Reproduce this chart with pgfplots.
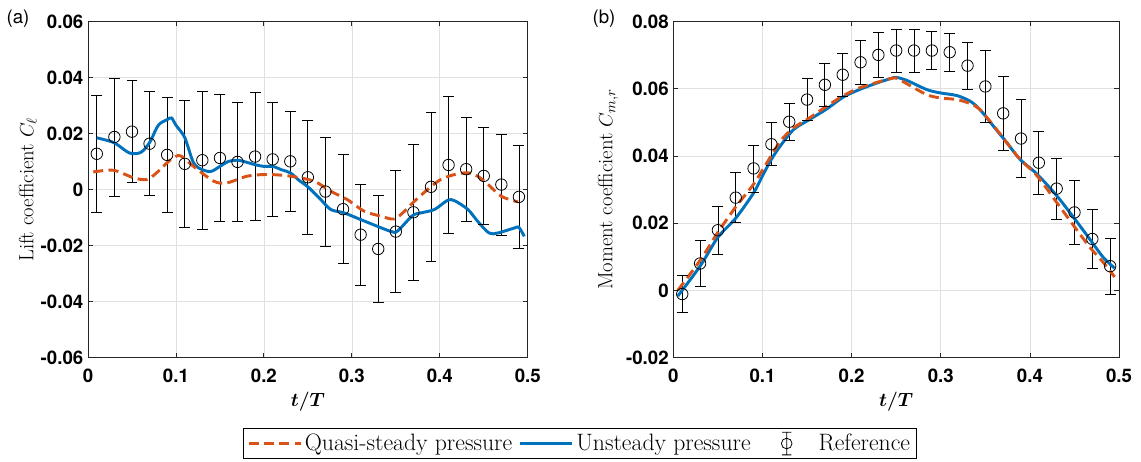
\documentclass[border=0pt]{standalone}
\usepackage{fontspec}
\usepackage{amsmath}
\usepackage{pgfplots}
\pgfplotsset{compat=1.18}
\usepackage{pgfplotstable}
\setsansfont{TeX Gyre Heros}
\definecolor{mblue}{rgb}{0,0.447,0.741}
\definecolor{morange}{rgb}{0.85,0.325,0.098}
\definecolor{maxis}{rgb}{0.15,0.15,0.15}

% Reference data: t, value, symmetric error
\pgfplotstableread{
t y e
0.01 0.0128 0.0210
0.03 0.0188 0.0211
0.05 0.0207 0.0183
0.07 0.0164 0.0186
0.09 0.0124 0.0207
0.11 0.0092 0.0228
0.13 0.0105 0.0246
0.15 0.0113 0.0226
0.17 0.0099 0.0211
0.19 0.0118 0.0228
0.21 0.0108 0.0204
0.23 0.0101 0.0180
0.25 0.0044 0.0203
0.27 -0.0007 0.0195
0.29 -0.0070 0.0195
0.31 -0.0161 0.0181
0.33 -0.0212 0.0190
0.35 -0.0150 0.0218
0.37 -0.0081 0.0244
0.39 0.0010 0.0266
0.41 0.0088 0.0244
0.43 0.0073 0.0185
0.45 0.0049 0.0172
0.47 0.0018 0.0180
0.49 -0.0026 0.0183
}\liftref
\pgfplotstableread{
t y
0.010 0.0185
0.030 0.0167
0.047 0.0131
0.060 0.0133
0.070 0.0168
0.080 0.0230
0.090 0.0250
0.095 0.0256
0.100 0.0230
0.110 0.0186
0.120 0.0096
0.130 0.0071
0.140 0.0065
0.150 0.0083
0.160 0.0101
0.170 0.0105
0.180 0.0098
0.190 0.0089
0.200 0.0083
0.210 0.0083
0.220 0.0071
0.230 0.0060
0.240 0.0033
0.250 0.0010
0.263 -0.0030
0.276 -0.0071
0.291 -0.0083
0.310 -0.0107
0.329 -0.0131
0.345 -0.0150
0.352 -0.0148
0.369 -0.0093
0.379 -0.0083
0.394 -0.0071
0.409 -0.0038
0.417 -0.0040
0.432 -0.0071
0.443 -0.0113
0.456 -0.0155
0.466 -0.0155
0.485 -0.0137
0.490 -0.0135
0.496 -0.0167
}\liftun
\pgfplotstableread{
t y
0.006 0.0063
0.029 0.0069
0.052 0.0042
0.067 0.0036
0.078 0.0060
0.094 0.0107
0.105 0.0121
0.120 0.0083
0.143 0.0030
0.158 0.0024
0.181 0.0048
0.204 0.0054
0.230 0.0048
0.257 0.0030
0.276 -0.0006
0.295 -0.0036
0.314 -0.0077
0.333 -0.0095
0.348 -0.0105
0.360 -0.0077
0.371 -0.0042
0.386 0.0000
0.401 0.0036
0.417 0.0054
0.432 0.0060
0.443 0.0048
0.455 0.0018
0.470 -0.0024
0.489 -0.0044
}\liftqs
\pgfplotstableread{
t y e
0.01 -0.0011 0.0056
0.03 0.0080 0.0068
0.05 0.0179 0.0072
0.07 0.0276 0.0075
0.09 0.0363 0.0070
0.11 0.0435 0.0064
0.13 0.0502 0.0056
0.15 0.0568 0.0062
0.17 0.0612 0.0063
0.19 0.0642 0.0064
0.21 0.0679 0.0065
0.23 0.0701 0.0068
0.25 0.0714 0.0064
0.27 0.0714 0.0064
0.29 0.0714 0.0057
0.31 0.0709 0.0057
0.33 0.0669 0.0070
0.35 0.0607 0.0107
0.37 0.0527 0.0110
0.39 0.0452 0.0117
0.41 0.0380 0.0093
0.43 0.0303 0.0091
0.45 0.0232 0.0094
0.47 0.0153 0.0088
0.49 0.0072 0.0083
}\momref
\pgfplotstableread{
t y
0.005 -0.0017
0.030 0.0072
0.050 0.0158
0.070 0.0215
0.090 0.0290
0.100 0.0341
0.110 0.0390
0.120 0.0430
0.135 0.0479
0.153 0.0509
0.172 0.0540
0.191 0.0576
0.209 0.0598
0.228 0.0617
0.243 0.0630
0.250 0.0634
0.262 0.0625
0.284 0.0598
0.299 0.0588
0.318 0.0580
0.333 0.0563
0.344 0.0538
0.359 0.0489
0.374 0.0440
0.389 0.0390
0.408 0.0346
0.430 0.0282
0.449 0.0217
0.467 0.0153
0.482 0.0099
0.495 0.0066
}\momun
\pgfplotstableread{
t y
0.005 0.0000
0.030 0.0089
0.050 0.0173
0.071 0.0252
0.090 0.0316
0.105 0.0380
0.120 0.0444
0.135 0.0484
0.153 0.0514
0.172 0.0548
0.191 0.0580
0.209 0.0603
0.228 0.0619
0.243 0.0630
0.250 0.0632
0.262 0.0615
0.284 0.0583
0.299 0.0573
0.318 0.0568
0.333 0.0556
0.344 0.0538
0.359 0.0491
0.374 0.0440
0.389 0.0390
0.408 0.0341
0.430 0.0262
0.449 0.0193
0.467 0.0129
0.482 0.0084
0.495 0.0040
}\momqs

\pgfplotsset{
  common/.style={
    scale only axis,
    xmin=0, xmax=0.5,
    xtick={0,0.1,0.2,0.3,0.4,0.5},
    grid=major,
    grid style={line width=0.5pt, black!12},
    axis line style={line width=0.6pt, maxis},
    tick style={line width=0.6pt, maxis},
    tick align=inside,
    major tick length=3.5pt,
    scaled y ticks=false,
    ticklabel style={font=\sffamily\bfseries\fontsize{14}{16}\selectfont},
    xticklabel style={yshift=-5pt},
    /pgf/number format/assume math mode=true,
    /pgf/number format/fixed,
    /pgf/number format/precision=2,
    label style={font=\fontsize{15.5}{18}\selectfont},
    xlabel={$\boldsymbol{t/T}$},
    xlabel style={at={(axis description cs:0.5,-0.1325)}, anchor=center},
  },
  refstyle/.style={
    only marks, black, mark=o, mark size=4.3pt,
    mark options={line width=0.6pt},
    error bars/y dir=both, error bars/y explicit,
    error bars/error mark=none,
    error bars/error bar style={line width=0.6pt},
  },
  capstyle/.style={only marks, black, mark=-, mark size=4.1pt, mark options={line width=0.6pt}, forget plot},
  unstyle/.style={mblue, line width=2.2pt, smooth},
  qsstyle/.style={morange, line width=2.2pt, dash pattern=on 7.5pt off 4pt, smooth},
  unleg/.style={legend image code/.code={\draw[mblue, line width=2.2pt] (0pt,0pt) -- (39pt,0pt);}},
  qsleg/.style={legend image code/.code={\draw[morange, line width=2.2pt, dash pattern=on 7.5pt off 4pt] (0pt,0pt) -- (39pt,0pt);}},
  refleg/.style={legend image code/.code={\draw[black, line width=0.6pt] (22pt,-8.5pt) -- (22pt,8.5pt) (18.5pt,-8.5pt) -- (25.5pt,-8.5pt) (18.5pt,8.5pt) -- (25.5pt,8.5pt) (26pt,0pt) arc[start angle=0, end angle=360, radius=4pt]; \path[draw=none, fill=none] (0pt,-1pt) rectangle (44pt,1pt);}},
}

\begin{document}
\begin{tikzpicture}
\useasboundingbox (0,0) rectangle (855.75pt,345.75pt);
\node[font=\sffamily\fontsize{14}{16}\selectfont] at (13.5pt,332pt) {(a)};
\node[font=\sffamily\fontsize{14}{16}\selectfont] at (453pt,332pt) {(b)};

\begin{axis}[common,
  at={(66pt,77.6pt)}, anchor=south west,
  width=329.8pt, height=251.9pt,
  ymin=-0.06, ymax=0.06,
  ytick={-0.06,-0.04,-0.02,0,0.02,0.04,0.06},
  ylabel={Lift coefficient $C_\ell$},
  ylabel style={at={(axis description cs:-0.137,0.5)}, anchor=center},
  reverse legend,
  legend columns=3,
  legend style={at={(axis description cs:1.1189,-0.256)}, anchor=center,
    draw=black, line width=0.6pt, font=\fontsize{17.8}{20}\selectfont,
    /tikz/every even column/.append style={column sep=3pt}},
  legend cell align=left,
]
\addplot[refstyle, refleg] table[x=t, y=y, y error=e] {\liftref};
\addlegendentry{Reference}
\addplot[capstyle] table[x=t, y expr=\thisrow{y}+\thisrow{e}] {\liftref};
\addplot[capstyle] table[x=t, y expr=\thisrow{y}-\thisrow{e}] {\liftref};
\addplot[unstyle, unleg] table[x=t,y=y] {\liftun};
\addlegendentry{Unsteady pressure}
\addplot[qsstyle, qsleg] table[x=t,y=y] {\liftqs};
\addlegendentry{Quasi-steady pressure}
\end{axis}

\begin{axis}[common,
  at={(505pt,77.6pt)}, anchor=south west,
  width=334.3pt, height=251.9pt,
  ymin=-0.02, ymax=0.08,
  ytick={-0.02,0,0.02,0.04,0.06,0.08},
  ylabel={Moment coefficient $C_{m,r}$},
  ylabel style={at={(axis description cs:-0.1466,0.5)}, anchor=center},
]
\addplot[refstyle] table[x=t, y=y, y error=e] {\momref};
\addplot[capstyle] table[x=t, y expr=\thisrow{y}+\thisrow{e}] {\momref};
\addplot[capstyle] table[x=t, y expr=\thisrow{y}-\thisrow{e}] {\momref};
\addplot[unstyle] table[x=t,y=y] {\momun};
\addplot[qsstyle] table[x=t,y=y] {\momqs};
\end{axis}
\end{tikzpicture}
\end{document}
